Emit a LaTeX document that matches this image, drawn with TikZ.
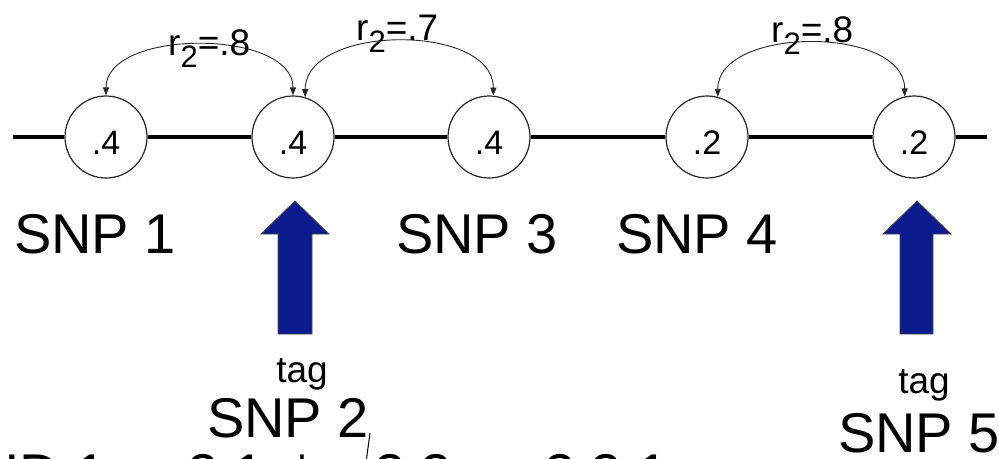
\documentclass[tikz,border=0pt]{standalone}
\usepackage{fontspec}
\setmainfont{Liberation Sans}
\usetikzlibrary{arrows.meta}
\definecolor{navy}{HTML}{0B1A8C}
\newcommand\rsq[1]{r\raisebox{-12pt}{\fontsize{31}{34}\selectfont 2}=#1}
\begin{document}
\begin{tikzpicture}[x=1pt,y=-1pt,
  circ/.style={circle,draw=black!85,line width=1.2pt,fill=white,minimum size=82pt,inner sep=0pt},
  val/.style={inner sep=0pt,font=\fontsize{34}{38}\selectfont},
  big/.style={inner sep=0pt,anchor=base,font=\fontsize{56}{60}\selectfont},
  bigw/.style={inner sep=0pt,anchor=base west,font=\fontsize{56}{60}\selectfont},
  taglbl/.style={inner sep=0pt,anchor=base,font=\fontsize{37}{40}\selectfont},
  rlbl/.style={inner sep=0pt,anchor=base west,font=\fontsize{37}{40}\selectfont},
  ld/.style={<->,>={Triangle[length=8pt,width=6pt]},line width=0.9pt,draw=black!85},
  mainline/.style={line width=3.2pt,draw=black},
  bluearrow/.style={fill=navy,draw=black!70,line width=0.8pt}
]
\clip (0,0) rectangle (999,458);
\fill[white] (0,0) rectangle (999,458);

% chromosome line and SNP circles
\coordinate (L) at (13,137);
\coordinate (R) at (987,137);
\node[circ] (c1) at (106,137) {};
\node[circ] (c2) at (293,137) {};
\node[circ] (c3) at (489,137) {};
\node[circ] (c4) at (707,137) {};
\node[circ] (c5) at (914,137) {};
\draw[mainline] (L) -- (c1.west);
\draw[mainline] (c1.east) -- (c2.west);
\draw[mainline] (c2.east) -- (c3.west);
\draw[mainline] (c3.east) -- (c4.west);
\draw[mainline] (c4.east) -- (c5.west);
\draw[mainline] (c5.east) -- (R);

\node[val] (v1) at ([yshift=-6pt]c1.center) {.4};
\node[val] (v2) at ([yshift=-6pt]c2.center) {.4};
\node[val] (v3) at ([yshift=-6pt]c3.center) {.4};
\node[val] (v4) at ([yshift=-6pt]c4.center) {.2};
\node[val] (v5) at ([yshift=-6pt]c5.center) {.2};

% LD arcs
\draw[ld] (c1.north) .. controls +(0,-67) and +(0,-67) .. (c2.north);
\draw[ld] (c2.73) .. controls +(0,-73) and +(0,-73) .. (c3.84);
\draw[ld] (c4.75) .. controls +(0,-71) and +(0,-71) .. (c5.103);

\node[rlbl] (r1) at (168,55) {\rsq{.8}};
\node[rlbl] (r2) at (356,40) {\rsq{.7}};
\node[rlbl] (r3) at (771,42) {\rsq{.8}};

% SNP labels
\node[big] (s1) at (95,253) {SNP 1};
\node[big] (s3) at (477,253) {SNP 3};
\node[big] (s4) at (697,253) {SNP 4};
\node[big] (s2) at (288,437) {SNP 2};
\node[big] (s5) at (919,452) {SNP 5};

% tag arrows
\draw[bluearrow] (295,201) -- (329,234) -- (312,234) -- (312,334) -- (278,334) -- (278,234) -- (261,234) -- cycle;
\draw[bluearrow] (917,201) -- (951,234) -- (933,234) -- (933,334) -- (900,334) -- (900,234) -- (883,234) -- cycle;
\node[taglbl] (t2) at (302,382) {tag};
\node[taglbl] (t5) at (924,393) {tag};

% bottom row (cut off)
\node[bigw] (b1) at (4,493) {ID 1};
\node[bigw] (b2) at (187,493) {2 1};
\node[bigw] (b3) at (291,493) {*};
\node[bigw] (b4) at (374,493) {2 2};
\node[bigw] (b5) at (544,493) {2 2 1};
\coordinate (sl1) at (370,433);
\coordinate (sl2) at (365,470);
\draw[line width=1pt] (sl1) -- (sl2);
\end{tikzpicture}
\end{document}
